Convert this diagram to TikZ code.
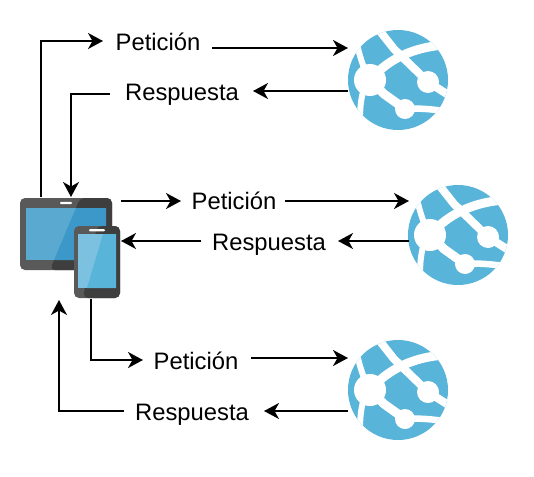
\documentclass[tikz,border=0pt]{standalone}
\usepackage{fontspec}
\setmainfont{Liberation Sans}
\usetikzlibrary{arrows.meta}
\definecolor{webblue}{HTML}{59B4D9}
\definecolor{bodylight}{HTML}{595959}
\definecolor{bodydark}{HTML}{3E3E3E}
\definecolor{tabletlight}{HTML}{59A9D1}
\definecolor{tabletdark}{HTML}{3C98C8}
\definecolor{phonelight}{HTML}{7CC2E0}
\newcommand{\globelines}{
  \begin{scope}[shift={(path picture bounding box.center)},draw=white,fill=white]
    \draw[line width=8pt] (-19,-50) -- (-4,-31) -- (30,2) -- (52,16);
    \draw[line width=9pt] (-28,0) .. controls (-14,-16) and (8,-32) .. (46,-35);
    \draw[line width=6pt] (-41,-36) .. controls (-38,-22) and (-35,-16) .. (-33,-8);
    \draw[line width=6pt] (-34,8) .. controls (-37,18) and (-38,28) .. (-38,40);
    \draw[line width=9pt] (-28,0) -- (-14,14) -- (7,29);
    \draw[line width=6.5pt] (7,29) .. controls (20,28) and (32,29) .. (46,31);
    \fill (-28,0) circle (16);
    \fill (30,2) circle (11);
    \fill (7,29) circle (10);
  \end{scope}
}
\tikzset{
  webapp/.style={circle, fill=webblue, minimum size=100pt, inner sep=0pt,
                 path picture={\globelines}},
  caption/.style={inner sep=0pt, font=\fontsize{23.8}{26}\selectfont},
  arrow/.style={-{Stealth[length=15pt,width=16pt,inset=4.5pt]}, line width=1.8pt, draw=black}
}
\begin{document}
\begin{tikzpicture}[x=1pt,y=-1pt]
  \useasboundingbox (0,0) rectangle (534,476);
  % devices
  \node[fill=bodylight,rounded corners=5pt,minimum width=92pt,minimum height=72pt,inner sep=0pt] (tablet) at (66,234) {};
  \fill[bodydark,rounded corners=5pt] (80,198) -- (112,198) -- (112,270) -- (50,270) -- cycle;
  \fill[tabletlight] (26,208) rectangle (106,260);
  \fill[tabletdark] (76,208) -- (106,208) -- (106,260) -- (54,260) -- cycle;
  \fill[white,rounded corners=1pt] (60,201.8) rectangle (72,204.2);
  \node[fill=bodylight,rounded corners=5pt,minimum width=46pt,minimum height=72pt,inner sep=0pt] (phone) at (97,262) {};
  \fill[bodydark,rounded corners=5pt] (97,226) -- (120,226) -- (120,298) -- (83,298) -- cycle;
  \fill[phonelight] (78,234) rectangle (116,288);
  \fill[webblue] (103,234) -- (116,234) -- (116,288) -- (87,288) -- cycle;
  \fill[white,rounded corners=1pt] (89,229) rectangle (105,231.4);
  % web apps
  \node[webapp] (webA) at (398,80) {};
  \node[webapp] (webB) at (458,235) {};
  \node[webapp] (webC) at (398,390) {};
  % captions
  \node[caption] (reqA) at (158,42) {Petición};
  \node[caption] (resA) at (182,95) {Respuesta};
  \node[caption] (reqB) at (234,201) {Petición};
  \node[caption] (resB) at (269,245) {Respuesta};
  \node[caption] (reqC) at (196,361) {Petición};
  \node[caption] (resC) at (192,415) {Respuesta};
  % free ends
  \coordinate (a1) at (41,197);
  \coordinate (a2) at (103,41);
  \coordinate (a3) at (212,48);
  \coordinate (a4) at (348,48);
  \coordinate (a5) at (348,91);
  \coordinate (a6) at (253,91);
  \coordinate (a7) at (110,94);
  \coordinate (a8) at (71,197);
  \coordinate (b1) at (121,201);
  \coordinate (b2) at (181,201);
  \coordinate (b3) at (285,201);
  \coordinate (b4) at (409,201);
  \coordinate (b5) at (409,241);
  \coordinate (b6) at (338,241);
  \coordinate (b7) at (201,241);
  \coordinate (b8) at (121,241);
  \coordinate (c1) at (91,299);
  \coordinate (c2) at (143,360);
  \coordinate (c3) at (251,358);
  \coordinate (c4) at (348,358);
  \coordinate (c5) at (348,411);
  \coordinate (c6) at (264,411);
  \coordinate (c7) at (124,411);
  \coordinate (c8) at (59,300);
  % top
  \draw[arrow] (a1) |- (a2);
  \draw[arrow] (a3) -- (a4);
  \draw[arrow] (a5) -- (a6);
  \draw[arrow] (a7) -| (a8);
  % middle
  \draw[arrow] (b1) -- (b2);
  \draw[arrow] (b3) -- (b4);
  \draw[arrow] (b5) -- (b6);
  \draw[arrow] (b7) -- (b8);
  % bottom
  \draw[arrow] (c1) |- (c2);
  \draw[arrow] (c3) -- (c4);
  \draw[arrow] (c5) -- (c6);
  \draw[arrow] (c7) -| (c8);
\end{tikzpicture}
\end{document}
